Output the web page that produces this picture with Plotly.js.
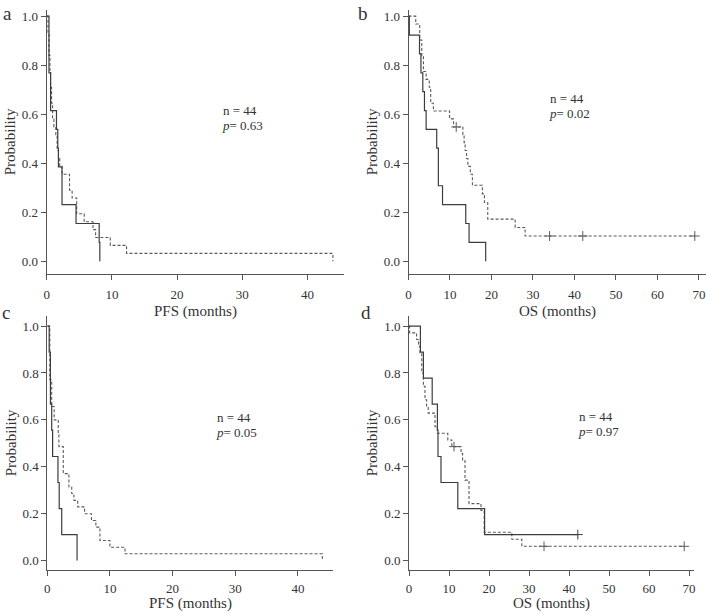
<!DOCTYPE html>
<html>
<head>
<meta charset="utf-8">
<script src="https://cdn.plot.ly/plotly-3.0.1.min.js"></script>
<style>html,body{margin:0;padding:0;background:#fff;}#chart{width:709px;height:613px;}</style>
</head>
<body>
<div id="chart"></div>
<script>
// ---------- Data (Kaplan–Meier step curves) ----------
// Panel a: PFS
const aSolidT = [0, 0.35, 0.6, 1.5, 1.7, 1.8, 2.35, 4.5, 8.05, 8.15];
const aSolidS = [1.0, 0.769, 0.615, 0.538, 0.462, 0.385, 0.231, 0.154, 0.077, 0];
const aDashT = [0, 0.2, 0.35, 0.5, 0.6, 0.75, 0.9, 1.1, 1.4, 1.6, 1.8, 2.0, 2.35, 3.5, 3.9, 4.6, 5.75, 7.1, 7.5, 9.75, 12.25, 43.9];
const aDashS = [1.0, 0.935, 0.84, 0.77, 0.71, 0.645, 0.58, 0.548, 0.516, 0.452, 0.419, 0.387, 0.355, 0.29, 0.258, 0.194, 0.161, 0.129, 0.097, 0.065, 0.032, 0];

// Panel b: OS
const bSolidT = [0, 0.2, 2.65, 3.0, 3.45, 3.85, 4.25, 6.8, 7.2, 8.2, 13.8, 14.6, 18.6];
const bSolidS = [1.0, 0.923, 0.846, 0.769, 0.692, 0.615, 0.538, 0.462, 0.308, 0.231, 0.154, 0.077, 0];
const bDashT = [0, 1.75, 2.7, 3.2, 3.6, 4.25, 5.0, 5.35, 6.0, 9.9, 10.85, 13.1, 13.4, 13.65, 14.0, 14.3, 14.9, 15.4, 17.8, 18.3, 19.1, 25.7, 28.1, 69];
const bDashS = [1.0, 0.968, 0.903, 0.839, 0.774, 0.742, 0.71, 0.645, 0.613, 0.581, 0.548, 0.516, 0.484, 0.452, 0.419, 0.387, 0.355, 0.31, 0.275, 0.24, 0.172, 0.138, 0.103, 0.103];
const bDashCensT = [11.5, 34, 42, 69];
const bDashCensS = [0.548, 0.103, 0.103, 0.103];

// Panel c: PFS
const cSolidT = [0, 0.3, 0.5, 0.7, 0.85, 1.7, 1.9, 2.3, 4.75];
const cSolidS = [1.0, 0.889, 0.667, 0.556, 0.444, 0.333, 0.222, 0.111, 0];
const cDashT = [0, 0.4, 0.7, 1.1, 1.75, 1.85, 2.55, 3.45, 3.9, 4.25, 4.85, 5.95, 7.05, 7.75, 8.4, 10.0, 12.4, 43.9];
const cDashS = [1.0, 0.771, 0.657, 0.6, 0.543, 0.486, 0.371, 0.314, 0.286, 0.257, 0.229, 0.2, 0.171, 0.143, 0.086, 0.057, 0.029, 0];

// Panel d: OS
const dSolidT = [0, 2.85, 3.6, 5.8, 7.1, 7.25, 8.0, 12.2, 18.9, 42.2];
const dSolidS = [1.0, 0.889, 0.778, 0.667, 0.556, 0.444, 0.333, 0.222, 0.111, 0.111];
const dSolidCensT = [42.2];
const dSolidCensS = [0.111];
const dDashT = [0, 0.15, 1.9, 2.4, 2.75, 3.2, 3.6, 4.0, 4.4, 4.8, 6.5, 7.1, 9.7, 10.7, 13.0, 13.4, 14.0, 15.0, 18.0, 18.8, 25.7, 28.2, 68.8];
const dDashS = [1.0, 0.971, 0.943, 0.914, 0.886, 0.8, 0.743, 0.686, 0.657, 0.629, 0.571, 0.543, 0.514, 0.486, 0.457, 0.429, 0.343, 0.243, 0.214, 0.121, 0.091, 0.061, 0.061];
const dDashCensT = [11.25, 33.75, 68.8];
const dDashCensS = [0.486, 0.061, 0.061];

// Ticks and labels
const pfsTicks = [0, 10, 20, 30, 40];
const osTicks = [0, 10, 20, 30, 40, 50, 60, 70];
const probTicks = [0.0, 0.2, 0.4, 0.6, 0.8, 1.0];
const panelLetters = ['a', 'b', 'c', 'd'];
const pValues = ['0.63', '0.02', '0.05', '0.97'];
const nText = 'n = 44';
const xTitles = ['PFS (months)', 'OS (months)', 'PFS (months)', 'OS (months)'];
const yTitle = 'Probability';

// ---------- Styling ----------
const FONT = '"Liberation Serif", "Times New Roman", Times, serif';
const TXT = '#333333';
const SOLID = '#3c3c3c';
const DASH = '#5a5a5a';
const W = 709, H = 613;

function stepTrace(x, y, ax, dashed) {
  return {
    x: x, y: y, xaxis: 'x' + ax, yaxis: 'y' + ax, type: 'scatter', mode: 'lines',
    line: {shape: 'hv', color: dashed ? DASH : SOLID, width: dashed ? 1.1 : 1.2, dash: dashed ? '3px,2px' : 'solid'},
    hoverinfo: 'skip', showlegend: false, cliponaxis: false
  };
}
function censTrace(x, y, ax, dashed) {
  return {
    x: x, y: y, xaxis: 'x' + ax, yaxis: 'y' + ax, type: 'scatter', mode: 'markers',
    marker: {symbol: 'cross-thin', size: 7, line: {width: 1, color: dashed ? DASH : SOLID}},
    hoverinfo: 'skip', showlegend: false, cliponaxis: false
  };
}

const data = [
  stepTrace(aDashT, aDashS, '', true), stepTrace(aSolidT, aSolidS, '', false),
  stepTrace(bDashT, bDashS, '2', true), stepTrace(bSolidT, bSolidS, '2', false),
  censTrace(bDashCensT, bDashCensS, '2', true),
  stepTrace(cDashT, cDashS, '3', true), stepTrace(cSolidT, cSolidS, '3', false),
  stepTrace(dDashT, dDashS, '4', true), stepTrace(dSolidT, dSolidS, '4', false),
  censTrace(dDashCensT, dDashCensS, '4', true), censTrace(dSolidCensT, dSolidCensS, '4', false)
];

function xAx(px0, px1, range, ticks, anchor, standoff) {
  return {
    domain: [px0 / W, px1 / W], range: range, anchor: anchor,
    tickvals: ticks, ticks: 'outside', ticklen: 5, tickwidth: 1, tickcolor: '#555',
    ticklabelstandoff: standoff,
    showline: true, linecolor: '#555', linewidth: 1, showgrid: false, zeroline: false,
    tickfont: {family: FONT, size: 13, color: TXT}
  };
}
function yAx(pyBottom, pyTop, range, anchor) {
  return {
    domain: [(H - pyBottom) / H, (H - pyTop) / H], range: range, anchor: anchor,
    tickvals: probTicks, tickformat: '.1f', ticks: 'outside', ticklen: 5, tickwidth: 1, tickcolor: '#555',
    showline: true, linecolor: '#555', linewidth: 1, showgrid: false, zeroline: false,
    tickfont: {family: FONT, size: 13, color: TXT},
    title: {text: yTitle, font: {family: FONT, size: 15, color: TXT}, standoff: 2}
  };
}

const topB = 274, topT = 9.8, topRange = [-0.052, 1.026];
const botB = 570, botT = 316, botRange = [-0.04, 1.043];
const xDomains = [[46.7, 344], [408.5, 706], [47.3, 333], [409, 694]];

const annotations = [];
const letterPos = [[7, 13], [363, 13], [6, 313], [366, 312]];
const statPos = [[221, 110], [548, 98], [215, 417], [577, 416]];
for (let i = 0; i < 4; i++) {
  annotations.push({xref: 'paper', yref: 'paper', x: letterPos[i][0] / W, y: 1 - letterPos[i][1] / H,
    xanchor: 'center', yanchor: 'middle', showarrow: false, text: panelLetters[i],
    font: {family: FONT, size: 19, color: TXT}});
  annotations.push({xref: 'paper', yref: 'paper', x: statPos[i][0] / W, y: 1 - statPos[i][1] / H,
    xanchor: 'left', yanchor: 'middle', showarrow: false, text: nText,
    font: {family: FONT, size: 13, color: TXT}});
  annotations.push({xref: 'paper', yref: 'paper', x: (statPos[i][0] - 1) / W, y: 1 - (statPos[i][1] + 15) / H,
    xanchor: 'left', yanchor: 'middle', showarrow: false, text: '<i>p</i>= ' + pValues[i],
    font: {family: FONT, size: 13, color: TXT}});
  // x-axis titles
  const bottomRow = i >= 2;
  annotations.push({xref: 'paper', yref: 'paper', x: (xDomains[i][0] + xDomains[i][1]) / 2 / W,
    y: bottomRow ? 0 : 1 - 311 / H, xanchor: 'center', yanchor: bottomRow ? 'bottom' : 'middle',
    borderpad: 0, showarrow: false, text: xTitles[i],
    font: {family: FONT, size: 15, color: TXT}});
}

const layout = {
  width: W, height: H, margin: {l: 0, r: 0, t: 0, b: 0},
  paper_bgcolor: '#fff', plot_bgcolor: 'rgba(0,0,0,0)', showlegend: false,
  xaxis: xAx(xDomains[0][0], xDomains[0][1], [0, 45.6], pfsTicks, 'y', 3),
  yaxis: yAx(topB, topT, topRange, 'x'),
  xaxis2: xAx(xDomains[1][0], xDomains[1][1], [0, 71.7], osTicks, 'y2', 3),
  yaxis2: yAx(topB, topT, topRange, 'x2'),
  xaxis3: xAx(xDomains[2][0], xDomains[2][1], [0, 45.6], pfsTicks, 'y3', 1),
  yaxis3: yAx(botB, botT, botRange, 'x3'),
  xaxis4: xAx(xDomains[3][0], xDomains[3][1], [0, 71.25], osTicks, 'y4', 1),
  yaxis4: yAx(botB, botT, botRange, 'x4'),
  annotations: annotations
};

Plotly.newPlot('chart', data, layout, {staticPlot: true, displayModeBar: false});
</script>
</body>
</html>
